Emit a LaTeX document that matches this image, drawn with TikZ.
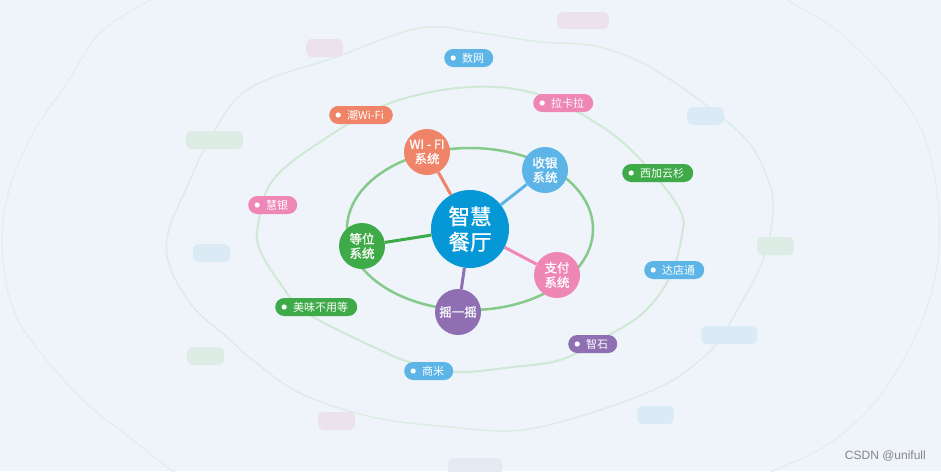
\documentclass[tikz,border=0pt]{standalone}
\usepackage{fontspec}
\newfontfamily\cjk{Noto Sans CJK SC}
\newfontfamily\cjkm{Noto Sans CJK SC}[FakeBold=0.9]
\newfontfamily\wmfont{Liberation Sans}
\definecolor{bgc}{HTML}{EEF4FA}
\definecolor{cHub}{HTML}{0597D6}
\definecolor{cSal}{HTML}{EF8468}
\definecolor{cBlue}{HTML}{5CB5E6}
\definecolor{cGreen}{HTML}{3EAA48}
\definecolor{cPink}{HTML}{EE87B6}
\definecolor{cPurp}{HTML}{8F6FB1}
\definecolor{cRing}{HTML}{86CA8B}
\definecolor{cMid}{HTML}{D0E8D6}
\definecolor{cOut}{HTML}{DCEDE4}
\definecolor{cFar}{HTML}{E3EEEC}
\definecolor{fPink}{HTML}{ECE2EE}
\definecolor{fGreen}{HTML}{DDEDE6}
\definecolor{fBlue}{HTML}{DBEBF6}
\definecolor{fGray}{HTML}{E5E9F1}
\begin{document}
\begin{tikzpicture}[x=1pt,y=-1pt,
  hub/.style={circle, fill=cHub, minimum size=78pt, inner sep=0pt, text=white,
    font=\cjkm\fontsize{21.5}{25.5}\selectfont, align=center},
  sat/.style={circle, fill=#1, minimum size=46pt, inner sep=0pt, text=white,
    font=\cjkm\fontsize{12.5}{14.5}\selectfont, align=center},
  pill/.style={fill=#1, rounded corners=9pt, minimum height=18pt, inner xsep=9pt, inner ysep=0pt,
    text=white, font=\cjk\fontsize{11}{13}\selectfont, anchor=west,
    path picture={\fill[white] ([xshift=9pt]path picture bounding box.west) circle (2.6pt);}},
  ghost/.style={fill=#1, rounded corners=6pt},
  spoke/.style={line width=3pt, #1}
]
\fill[bgc] (0,0) rectangle (941,471);
\useasboundingbox (0,0) rectangle (941,471);

% faint outermost ring
\begin{scope}
\clip (0,0) rectangle (941,471);
\draw[cFar, line width=1.2pt] plot[smooth cycle, tension=0.55] coordinates {
 (470,-80) (640,-65) (730,-32) (787,0) (840,33) (890,83) (923,133) (938,200) (937,267) (917,333) (877,400)
 (830,443) (773,471) (710,497) (470,535) (235,505) (173,471) (133,440) (83,400) (33,343) (10,300) (2,240)
 (10,187) (33,133) (67,83) (100,33) (150,0) (210,-32) (300,-65)};
\end{scope}

% outer wavy ring
\draw[cOut, line width=1.5pt] plot[smooth cycle, tension=0.6] coordinates {
 (168,233) (187,187) (213,133) (250,88) (336,57) (420,28) (480,33) (540,42) (600,47)
 (660,73) (740,133) (767,177) (773,213) (763,260) (743,300) (717,343) (690,368) (660,387) (600,410)
 (522,430) (450,427) (372,417) (300,393) (250,358) (227,337) (193,307) (170,267)};

% middle wavy ring
\draw[cMid, line width=2pt] plot[smooth cycle, tension=0.6] coordinates {
 (258,225) (273,180) (323,140) (390,103) (470,87) (540,95) (607,130) (650,170)
 (680,210) (682,235) (670,277) (643,313) (600,340) (560,360) (513,367) (457,372)
 (413,363) (380,350) (307,313) (280,283) (260,250)};

% ghost pills
\fill[ghost=fPink]  (557,12) rectangle (609,29);
\fill[ghost=fPink]  (306,39) rectangle (343,57);
\fill[ghost=fGreen] (186,131) rectangle (243,149);
\fill[ghost=fBlue]  (687,107) rectangle (724,125);
\fill[ghost=fBlue]  (193,244) rectangle (230,262);
\fill[ghost=fGreen] (757,237) rectangle (794,255);
\fill[ghost=fBlue]  (701,326) rectangle (757,344);
\fill[ghost=fGreen] (187,347) rectangle (224,365);
\fill[ghost=fPink]  (318,412) rectangle (355,430);
\fill[ghost=fBlue]  (637,406) rectangle (674,424);
\fill[ghost=fGray]  (448,458) rectangle (502,476);

% inner ring
\draw[cRing, line width=2.5pt] (470,229) ellipse (123 and 81);

% nodes
\node[hub] (hub) at (470,229) {智慧\\餐厅};
\node[sat=cSal]   (wifi) at (427,152) {WI - FI\\系统};
\node[sat=cBlue]  (cash) at (545,170) {收银\\系统};
\node[sat=cGreen] (wait) at (362,246) {等位\\系统};
\node[sat=cPink]  (pay)  at (557,275) {支付\\系统};
\node[sat=cPurp]  (shake) at (458,312) {摇一摇};

\draw[spoke=cSal]   (hub) -- (wifi);
\draw[spoke=cBlue]  (hub) -- (cash);
\draw[spoke=cGreen] (hub) -- (wait);
\draw[spoke=cPink]  (hub) -- (pay);
\draw[spoke=cPurp]  (hub) -- (shake);

% labels
\node[pill=cBlue]  (shuwang) at (444,58)  {\hspace*{9pt}数网};
\node[pill=cPink]  (lakala)  at (533,103) {\hspace*{9pt}拉卡拉};
\node[pill=cSal]   (chao)    at (329,115) {\hspace*{9pt}潮Wi-Fi};
\node[pill=cGreen] (xijia)   at (622,173) {\hspace*{9pt}西加云杉};
\node[pill=cPink]  (huiyin)  at (248,205) {\hspace*{9pt}慧银};
\node[pill=cBlue]  (dadian)  at (644,270) {\hspace*{9pt}达店通};
\node[pill=cGreen] (meiwei)  at (275,307) {\hspace*{9pt}美味不用等};
\node[pill=cPurp]  (zhishi)  at (568,344) {\hspace*{9pt}智石};
\node[pill=cBlue]  (shangmi) at (404,371) {\hspace*{9pt}商米};

\node[anchor=east, text=black!48, font=\wmfont\fontsize{12}{14}\selectfont, inner sep=0pt] (wm) at (926,456) {CSDN @unifull};
\end{tikzpicture}
\end{document}
